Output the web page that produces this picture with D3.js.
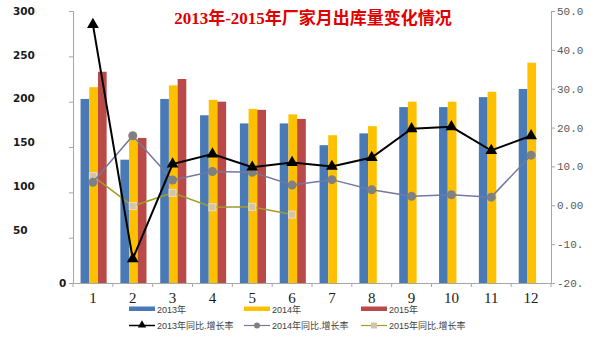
<!DOCTYPE html>
<html>
<head>
<meta charset="utf-8">
<script src="https://cdn.jsdelivr.net/npm/d3@7/dist/d3.min.js"></script>
<style>
  body { margin: 0; background: #fff; }
  svg { display: block; }
</style>
</head>
<body>
<svg id="chart" width="602" height="352"></svg>
<script>
// data
const months = ["1", "2", "3", "4", "5", "6", "7", "8", "9", "10", "11", "12"];
const seriesNames = ["2013年", "2014年", "2015年"];
const sales2013 = [203, 136, 203, 185, 176, 176, 152, 165, 194, 194, 205, 214];
const sales2014 = [216, 158, 218, 202, 192, 186, 163, 173, 200, 200, 211, 243];
const sales2015 = [233, 160, 225, 200, 191, 181];
const growth2013 = [46.5, -13.8, 10.6, 13.2, 9.8, 11.0, 10.0, 12.3, 19.7, 20.2, 14.1, 17.9];
const growth2014 = [5.9, 17.9, 6.5, 8.7, 8.5, 5.2, 6.6, 4.0, 2.3, 2.7, 2.1, 12.9];
const growth2015 = [7.5, -0.2, 3.2, -0.5, -0.4, -2.4];
const leftTicks = [0, 50, 100, 150, 200, 250, 300];
const rightTicks = [-20, -10, 0, 10, 20, 30, 40, 50];
const rightTickLabels = ["-20.", "-10.", "0.00", "10.0", "20.0", "30.0", "40.0", "50.0"];
const lineNames = ["2013年同比.增长率", "2014年同比.增长率", "2015年同比.增长率"];

const barColors = ["#4a7ab5", "#ffc000", "#b94a48"];

const svg = d3.select("#chart");
const plotL = 73, plotR = 551, plotT = 11, plotB = 283;

const x = d3.scaleBand().domain(months).range([plotL, plotR]).padding(0);
const xs = d3.scaleBand().domain(seriesNames).range([0, x.bandwidth()])
  .paddingInner(0).paddingOuter(0.79).align(0.55);
const yL = d3.scaleLinear().domain([0, 300]).range([plotB, plotT]);
const yR = d3.scaleLinear().domain([-20, 50]).range([plotB, plotT]);

// title
svg.append("text")
  .attr("x", 313).attr("y", 24)
  .attr("text-anchor", "middle")
  .attr("fill", "#e00000")
  .style("font", "bold 17px 'Liberation Serif', 'Noto Sans CJK SC', serif")
  .text("2013年-2015年厂家月出库量变化情况");

// bars
const sales = [sales2013, sales2014, sales2015];
sales.forEach((vals, si) => {
  svg.append("g").selectAll("rect")
    .data(vals)
    .join("rect")
    .attr("x", (d, i) => x(months[i]) + xs(seriesNames[si]))
    .attr("width", xs.bandwidth())
    .attr("y", d => yL(d))
    .attr("height", d => yL(0) - yL(d))
    .attr("fill", barColors[si]);
});

// axes
const axisColor = "#a6a6a6";
const gL = svg.append("g").attr("transform", `translate(${plotL},0)`)
  .call(d3.axisLeft(yL).tickValues(leftTicks).tickSize(4).tickPadding(0));
gL.selectAll("path, line").attr("stroke", axisColor);
gL.selectAll("text")
  .attr("text-anchor", "start")
  .attr("x", d => d === 0 ? -14 : -60)
  .attr("dy", d => d === 0 ? "0.32em" : (0.32 - (300 - d) / 50 * 0.15) + "em")
  .attr("fill", "#1a1a1a")
  .style("font", "bold 10.5px 'DejaVu Sans', sans-serif");

const gR = svg.append("g").attr("transform", `translate(${plotR},0)`)
  .call(d3.axisRight(yR).tickValues(rightTicks).tickSize(4).tickPadding(2)
    .tickFormat((d, i) => rightTickLabels[i]));
gR.selectAll("path, line").attr("stroke", axisColor);
gR.selectAll("text")
  .attr("fill", "#595959")
  .style("font", "11px 'Liberation Mono', monospace");

const gB = svg.append("g").attr("transform", `translate(0,${plotB})`)
  .call(d3.axisBottom(x).tickSize(0).tickPadding(9));
gB.select("path").attr("stroke", axisColor);
gB.selectAll("text")
  .attr("fill", "#1a1a1a")
  .style("font", "15px 'Liberation Serif', serif");
// boundary ticks between months
gB.append("g").selectAll("line")
  .data(months.concat(["end"]))
  .join("line")
  .attr("x1", (d, i) => i < months.length ? x(d) : x(months[months.length - 1]) + x.bandwidth())
  .attr("x2", (d, i) => i < months.length ? x(d) : x(months[months.length - 1]) + x.bandwidth())
  .attr("y1", 0).attr("y2", 4)
  .attr("stroke", axisColor);

// growth lines
const lineGen = d3.line()
  .x((d, i) => x(months[i]) + x.bandwidth() / 2)
  .y(d => yR(d));

function drawLine(vals, color, width) {
  svg.append("path")
    .datum(vals)
    .attr("d", lineGen)
    .attr("fill", "none")
    .attr("stroke", color)
    .attr("stroke-width", width);
}

drawLine(growth2015, "#a09b2c", 1.5);
svg.append("g").selectAll("rect")
  .data(growth2015)
  .join("rect")
  .attr("x", (d, i) => x(months[i]) + x.bandwidth() / 2 - 3.5)
  .attr("y", d => yR(d) - 3.5)
  .attr("width", 7).attr("height", 7)
  .attr("fill", "#d3c4a6")
  .attr("stroke", "#e8dcc4").attr("stroke-width", 1);

drawLine(growth2014, "#73789e", 1.5);
svg.append("g").selectAll("circle")
  .data(growth2014)
  .join("circle")
  .attr("cx", (d, i) => x(months[i]) + x.bandwidth() / 2)
  .attr("cy", d => yR(d))
  .attr("r", 4.5)
  .attr("fill", "#808080");

drawLine(growth2013, "#000", 2);
const tri = d3.symbol().type(d3.symbolTriangle).size(60);
svg.append("g").selectAll("path")
  .data(growth2013)
  .join("path")
  .attr("d", tri)
  .attr("transform", (d, i) => `translate(${x(months[i]) + x.bandwidth() / 2},${yR(d)})`)
  .attr("fill", "#000");

// legend
const legX = [129, 244, 361];
const legFont = "9px 'Liberation Sans', 'Noto Sans CJK SC', sans-serif";
const leg1 = svg.append("g");
seriesNames.forEach((name, i) => {
  leg1.append("rect")
    .attr("x", legX[i]).attr("y", 306.5)
    .attr("width", 26).attr("height", 4.5)
    .attr("fill", barColors[i]);
  leg1.append("text")
    .attr("x", legX[i] + 28).attr("y", 312.5)
    .attr("fill", "#404040")
    .style("font", legFont)
    .text(name);
});

const leg2 = svg.append("g");
const lineColors = ["#000", "#73789e", "#a09b2c"];
lineNames.forEach((name, i) => {
  const cx = legX[i] + 13;
  leg2.append("line")
    .attr("x1", legX[i]).attr("x2", legX[i] + 26)
    .attr("y1", 325.5).attr("y2", 325.5)
    .attr("stroke", lineColors[i])
    .attr("stroke-width", i === 0 ? 1.5 : 1.2);
  if (i === 0) {
    leg2.append("path").attr("d", d3.symbol().type(d3.symbolTriangle).size(30))
      .attr("transform", `translate(${cx},325)`).attr("fill", "#000");
  } else if (i === 1) {
    leg2.append("circle").attr("cx", cx).attr("cy", 325.5).attr("r", 3).attr("fill", "#808080");
  } else {
    leg2.append("rect").attr("x", cx - 3).attr("y", 322.5).attr("width", 6).attr("height", 6)
      .attr("fill", "#d3c4a6");
  }
  leg2.append("text")
    .attr("x", legX[i] + 28).attr("y", 329)
    .attr("fill", "#404040")
    .style("font", legFont)
    .text(name);
});
</script>
</body>
</html>
